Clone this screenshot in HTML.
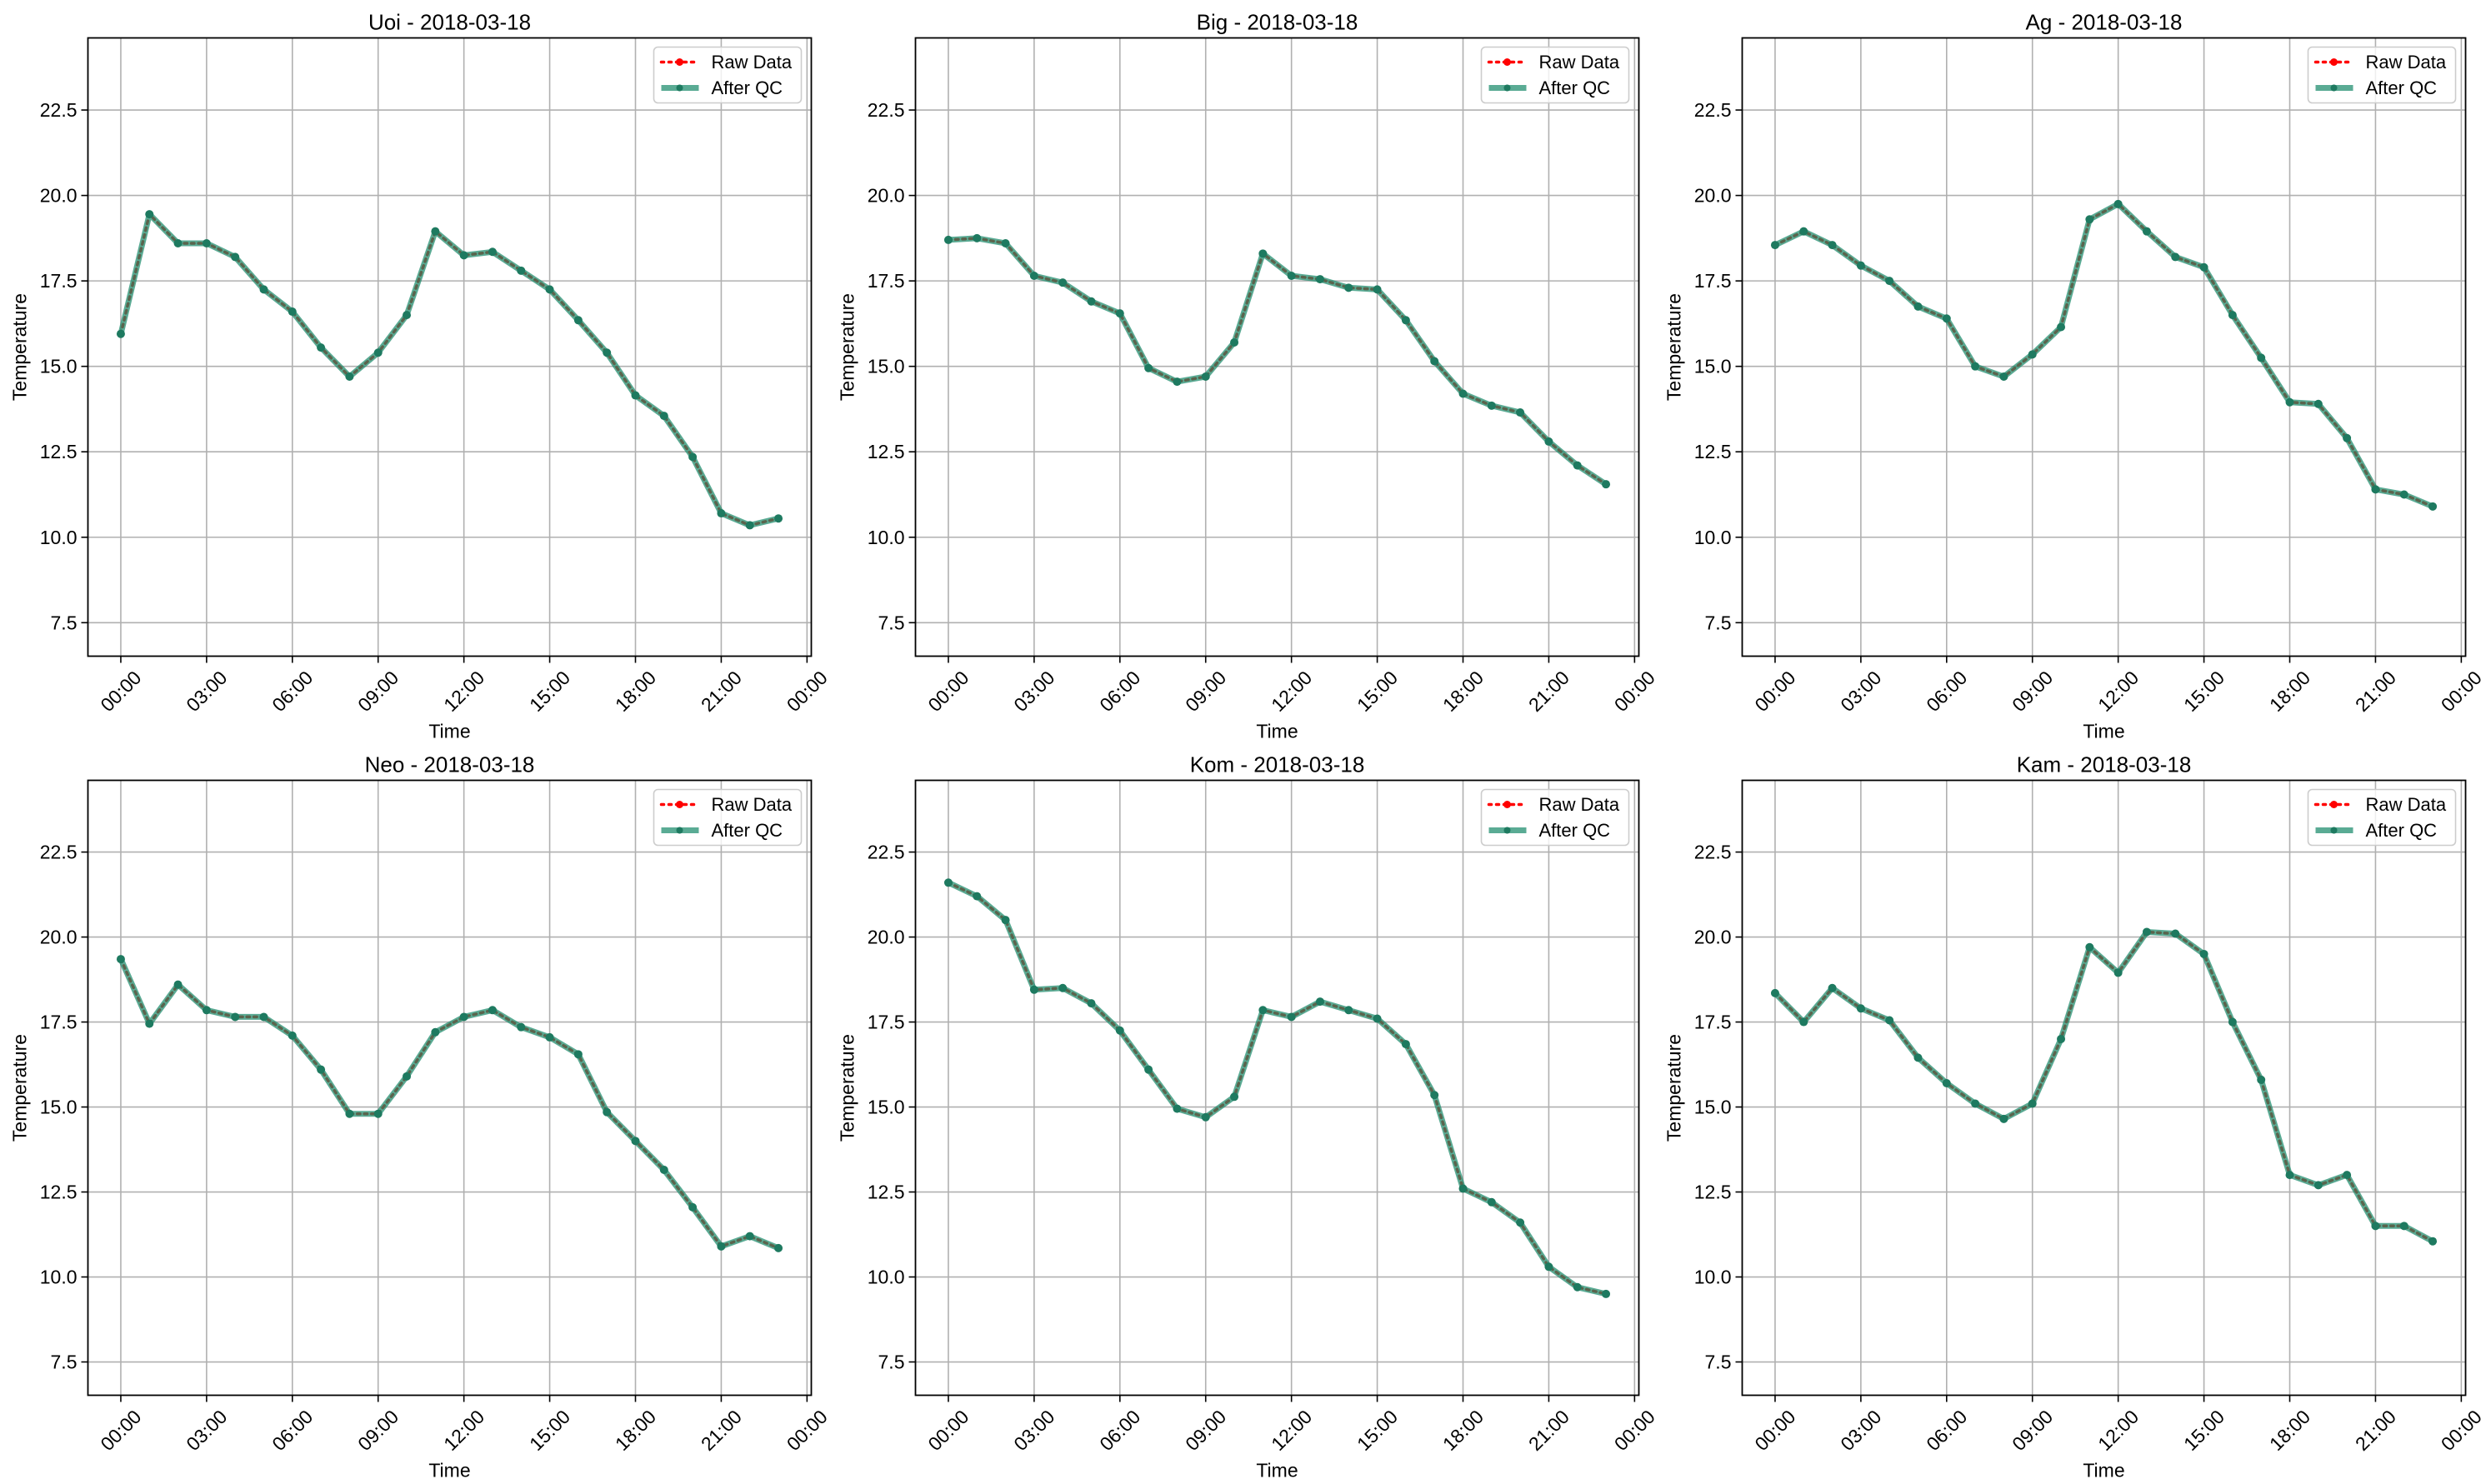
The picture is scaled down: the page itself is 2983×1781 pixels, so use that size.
<!DOCTYPE html>
<html><head><meta charset="utf-8"><style>
html,body{margin:0;padding:0;background:#fff;overflow:hidden;}
svg{display:block;font-family:"Liberation Sans","DejaVu Sans",sans-serif;}
</style></head><body>
<svg id="fig" xmlns="http://www.w3.org/2000/svg" width="2983" height="1781" viewBox="0 0 2983 1781"></svg>
<script>
const hours = [0,1,2,3,4,5,6,7,8,9,10,11,12,13,14,15,16,17,18,19,20,21,22,23];
const stations = ["Uoi","Big","Ag","Neo","Kom","Kam"];
const dateLabel = "2018-03-18";
const uoiValues = [15.95,19.45,18.6,18.6,18.2,17.25,16.6,15.55,14.7,15.4,16.5,18.95,18.25,18.35,17.8,17.25,16.35,15.4,14.15,13.55,12.35,10.7,10.35,10.55];
const bigValues = [18.7,18.75,18.6,17.65,17.45,16.9,16.55,14.95,14.55,14.7,15.7,18.3,17.65,17.55,17.3,17.25,16.35,15.15,14.2,13.85,13.65,12.8,12.1,11.55];
const agValues = [18.55,18.95,18.55,17.95,17.5,16.75,16.4,15.0,14.7,15.35,16.15,19.3,19.75,18.95,18.2,17.9,16.5,15.25,13.95,13.9,12.9,11.4,11.25,10.9];
const neoValues = [19.35,17.45,18.6,17.85,17.65,17.65,17.1,16.1,14.8,14.8,15.9,17.2,17.65,17.85,17.35,17.05,16.55,14.85,14.0,13.15,12.05,10.9,11.2,10.85];
const komValues = [21.6,21.2,20.5,18.45,18.5,18.05,17.25,16.1,14.95,14.7,15.3,17.85,17.65,18.1,17.85,17.6,16.85,15.35,12.6,12.2,11.6,10.3,9.7,9.5];
const kamValues = [18.35,17.5,18.5,17.9,17.55,16.45,15.7,15.1,14.65,15.1,17.0,19.7,18.95,20.15,20.1,19.5,17.5,15.8,13.0,12.7,13.0,11.5,11.5,11.05];
const yTicks = [7.5,10.0,12.5,15.0,17.5,20.0,22.5];
const xTickHours = [0,3,6,9,12,15,18,21,24];
const xTickLabels = ["00:00","03:00","06:00","09:00","12:00","15:00","18:00","21:00","00:00"];
const allValues = [uoiValues,bigValues,agValues,neoValues,komValues,kamValues];

const NS="http://www.w3.org/2000/svg";
const fig=document.getElementById('fig');
function mk(tag,attrs,parent){const e=document.createElementNS(NS,tag);for(const k in attrs)e.setAttribute(k,attrs[k]);(parent||fig).appendChild(e);return e;}

const colLeft=[105.5,1098.5,2090.5], rowTop=[45.5,936.5], rowH=[742,738], W=868;
const xMin=-1.15,xMax=24.15,yMin=6.52,yMax=24.61;

allValues.forEach((vals,i)=>{
  const L=colLeft[i%3], r=Math.floor(i/3), T=rowTop[r], H=rowH[r];
  const xs=h=>L+(h-xMin)/(xMax-xMin)*W;
  const ys=v=>T+H-(v-yMin)/(yMax-yMin)*H;
  const g=mk('g',{});
  
  
  mk('rect',{x:L,y:T,width:W,height:H,fill:'#fff'},g);
  xTickHours.forEach((h,j)=>{
    const x=xs(h);
    const gl=mk('line',{x1:x,x2:x,y1:T,y2:T+H,stroke:'#b0b0b0','stroke-width':1.6},g);
    
    
    mk('line',{x1:x,x2:x,y1:T+H,y2:T+H+8,stroke:'#000','stroke-width':1.6},g);
    const cx=x, cy=T+H+42;
    const t=mk('text',{x:cx,y:cy,'font-size':23,'text-anchor':'middle','dominant-baseline':'central',transform:`rotate(-45 ${cx} ${cy})`,fill:'#000'},g);
    t.textContent=xTickLabels[j];
    
    
  });
  yTicks.forEach(v=>{
    const y=ys(v);
    const gl=mk('line',{x1:L,x2:L+W,y1:y,y2:y,stroke:'#b0b0b0','stroke-width':1.6},g);
    
    
    mk('line',{x1:L-8,x2:L,y1:y,y2:y,stroke:'#000','stroke-width':1.6},g);
    const t=mk('text',{x:L-13,y:y,'font-size':23,'text-anchor':'end','dominant-baseline':'central',fill:'#000'},g);
    t.textContent=v.toFixed(1);
    
    
  });
  const pts=hours.map((h,k)=>xs(h).toFixed(1)+','+ys(vals[k]).toFixed(1)).join(' ');
  const raw=mk('polyline',{points:pts,fill:'none',stroke:'#ff0000','stroke-width':3.5,'stroke-dasharray':'3.5 5','stroke-linecap':'round'},g);
  
  
  hours.forEach((h,k)=>{mk('circle',{cx:xs(h),cy:ys(vals[k]),r:4.5,fill:'#ff0000'},g);});
  const qc=mk('polyline',{points:pts,fill:'none',stroke:'#1b8a6b','stroke-opacity':0.72,'stroke-width':7,'stroke-linejoin':'round'},g);
  
  
  hours.forEach((h,k)=>{
    const c=mk('circle',{cx:xs(h),cy:ys(vals[k]),r:5,fill:'#1e7a60'},g);
    
    
  });
  mk('rect',{x:L,y:T,width:W,height:H,fill:'none',stroke:'#000','stroke-width':1.8},g);
  const ti=mk('text',{x:L+W/2,y:T-19,'font-size':26,'text-anchor':'middle','dominant-baseline':'central',fill:'#000'},g);
  ti.textContent=stations[i]+' - '+dateLabel;
  
  
  const xl=mk('text',{x:L+W/2,y:T+H+90,'font-size':23,'text-anchor':'middle','dominant-baseline':'central',fill:'#000'},g);
  xl.textContent='Time';
  
  
  const yx=L-82, yy=T+H/2;
  const yl=mk('text',{x:yx,y:yy,'font-size':23,'text-anchor':'middle','dominant-baseline':'central',transform:`rotate(-90 ${yx} ${yy})`,fill:'#000'},g);
  yl.textContent='Temperature';
  
  
  const lg=mk('g',{},g);
  
  
  const lx=L+W-189, ly=T+11;
  mk('rect',{x:lx,y:ly,width:177,height:67,rx:5,fill:'#fff','fill-opacity':0.8,stroke:'#cccccc','stroke-width':1.6},lg);
  mk('line',{x1:lx+9,x2:lx+54,y1:ly+18,y2:ly+18,stroke:'#ff0000','stroke-width':3.5,'stroke-dasharray':'3 6','stroke-linecap':'round'},lg);
  mk('circle',{cx:lx+31,cy:ly+18,r:4.5,fill:'#ff0000'},lg);
  const t1=mk('text',{x:lx+69,y:ly+18,'font-size':22,'dominant-baseline':'central',fill:'#000'},lg);
  t1.textContent='Raw Data';
  
  
  mk('line',{x1:lx+9,x2:lx+54,y1:ly+49,y2:ly+49,stroke:'#1b8a6b','stroke-opacity':0.72,'stroke-width':7},lg);
  mk('circle',{cx:lx+31,cy:ly+49,r:4,fill:'#1e7a60'},lg);
  const t2=mk('text',{x:lx+69,y:ly+49,'font-size':22,'dominant-baseline':'central',fill:'#000'},lg);
  t2.textContent='After QC';
  
  
});
</script>
</body></html>
